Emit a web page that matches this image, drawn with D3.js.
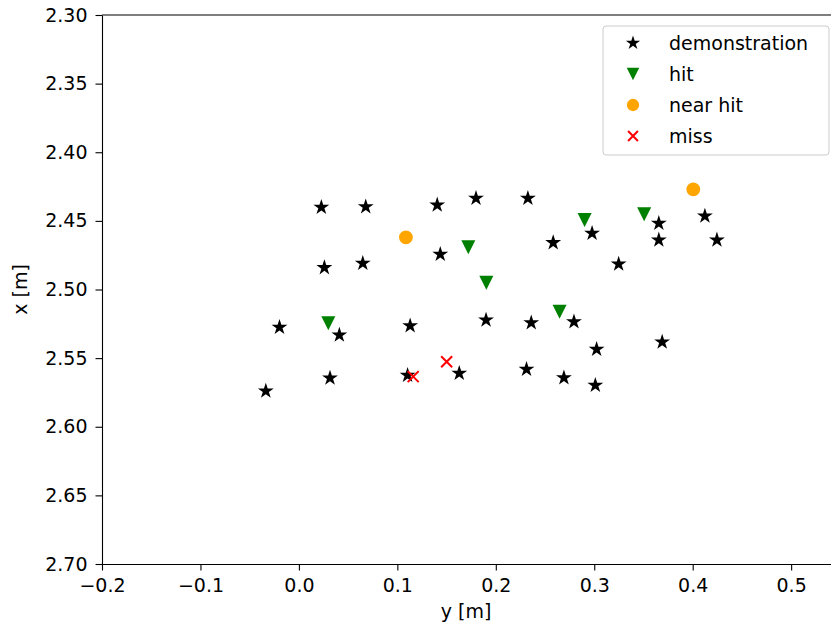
<!DOCTYPE html>
<html>
<head>
<meta charset="utf-8">
<script src="https://cdn.jsdelivr.net/npm/d3@7"></script>
<style>
  body { margin: 0; background: #fff; }
  svg text { font-family: "DejaVu Sans", sans-serif; fill: #000; }
</style>
</head>
<body>
<div id="chart"></div>
<script>
// demonstration points [y, x]
const demoY = [0.0228, 0.0679, 0.1405, 0.1799, 0.2326, 0.1436, 0.0259, 0.0649, 0.2978, 0.3656,
  0.3656, 0.4124, 0.4246, 0.2583, 0.3248, -0.0197, 0.0411, 0.1130, 0.1901, 0.2360,
  0.2794, 0.3024, 0.3690, -0.0336, 0.0316, 0.1104, 0.1629, 0.2312, 0.2692, 0.3011]
const demoX = [2.4401, 2.4397, 2.4384, 2.4336, 2.4336, 2.4744, 2.4841, 2.4809, 2.4591, 2.4518,
  2.4639, 2.4465, 2.4639, 2.4659, 2.4814, 2.5275, 2.5332, 2.5264, 2.5222, 2.5242,
  2.5235, 2.5436, 2.5383, 2.5740, 2.5645, 2.5625, 2.5611, 2.5581, 2.5643, 2.5698]

const hitY = [0.1721, 0.1904, 0.2902, 0.3507, 0.2648, 0.0299]
const hitX = [2.4693, 2.4950, 2.4494, 2.4452, 2.5162, 2.5246]

const nearY = [0.1087, 0.4006]
const nearX = [2.4620, 2.4270]

const missY = [0.1161, 0.1501]
const missX = [2.5635, 2.5526]

const xTicks = [-0.2, -0.1, 0.0, 0.1, 0.2, 0.3, 0.4, 0.5]
const yTicks = [2.30, 2.35, 2.40, 2.45, 2.50, 2.55, 2.60, 2.65, 2.70]

const W = 831, H = 628
const margin = {top: 15, right: -1, bottom: 64, left: 102}
const fs = "19px"

const svg = d3.select("#chart").append("svg")
  .attr("width", W).attr("height", H)

const x = d3.scaleLinear().domain([-0.2, 0.5415]).range([margin.left, W - margin.right])
const y = d3.scaleLinear().domain([2.30, 2.70]).range([margin.top, H - margin.bottom])

const fmtMinus = d => d.toFixed(1).replace("-", "\u2212")

// axes
const xAxis = svg.append("g")
  .attr("transform", `translate(0,${H - margin.bottom})`)
  .call(d3.axisBottom(x).tickValues(xTicks).tickFormat(fmtMinus).tickSize(6.5).tickPadding(10).tickSizeOuter(0))
const yAxis = svg.append("g")
  .attr("transform", `translate(${margin.left},0)`)
  .call(d3.axisLeft(y).tickValues(yTicks).tickFormat(d3.format(".2f")).tickSize(6.5).tickPadding(8).tickSizeOuter(0))

for (const g of [xAxis, yAxis]) {
  g.selectAll("text").style("font-size", fs).attr("fill", "#000")
  g.selectAll("line").attr("stroke", "#000").attr("stroke-width", 1.1)
  g.select(".domain").attr("stroke", "#000").attr("stroke-width", 1.1)
}
xAxis.selectAll("text").attr("dy", "0.6em")
// top spine
svg.append("line")
  .attr("x1", margin.left).attr("x2", W)
  .attr("y1", margin.top).attr("y2", margin.top)
  .attr("stroke", "#000").attr("stroke-width", 1.1)

svg.append("text")
  .attr("x", 466).attr("y", 618)
  .attr("text-anchor", "middle").style("font-size", fs)
  .text("y [m]")
svg.append("text")
  .attr("transform", `translate(27,${(margin.top + H - margin.bottom) / 2}) rotate(-90)`)
  .attr("text-anchor", "middle").style("font-size", fs)
  .text("x [m]")

// marker shapes
const triDown = {
  draw(ctx, size) {
    const h = Math.sqrt(size) / 2
    ctx.moveTo(0, h); ctx.lineTo(-h, -h); ctx.lineTo(h, -h); ctx.closePath()
  }
}
const cross = {
  draw(ctx, size) {
    const r = Math.sqrt(size) / 2
    ctx.moveTo(-r, -r); ctx.lineTo(r, r)
    ctx.moveTo(-r, r); ctx.lineTo(r, -r)
  }
}

const series = [
  {name: "demonstration", ys: demoY, xs: demoX, type: d3.symbolStar, size: 78, fill: "#000", stroke: "none"},
  {name: "hit", ys: hitY, xs: hitX, type: triDown, size: 196, fill: "#008000", stroke: "none"},
  {name: "near hit", ys: nearY, xs: nearX, type: d3.symbolCircle, size: 150, fill: "#ffa500", stroke: "none"},
  {name: "miss", ys: missY, xs: missX, type: cross, size: 121, fill: "none", stroke: "#ff0000"}
]

const plot = svg.append("g")
series.forEach(s => {
  const sym = d3.symbol(s.type, s.size)
  plot.selectAll(null)
    .data(s.ys.map((v, i) => [v, s.xs[i]]))
    .join("path")
      .attr("transform", d => `translate(${x(d[0])},${y(d[1])})`)
      .attr("d", sym)
      .attr("fill", s.fill)
      .attr("stroke", s.stroke)
      .attr("stroke-width", 2)
})

// legend
const lg = svg.append("g").attr("transform", "translate(603,26)")
lg.append("rect")
  .attr("width", 226).attr("height", 129).attr("rx", 3)
  .attr("fill", "#fff").attr("fill-opacity", 0.8)
  .attr("stroke", "#ccc").attr("stroke-width", 1)
series.forEach((s, i) => {
  const row = lg.append("g").attr("transform", `translate(30,${17 + i * 31})`)
  row.append("path")
    .attr("d", d3.symbol(s.type, s.size * 0.8))
    .attr("fill", s.fill).attr("stroke", s.stroke).attr("stroke-width", 2)
  row.append("text")
    .attr("x", 36).attr("y", 0).attr("dy", "0.35em")
    .style("font-size", fs)
    .text(s.name)
})
</script>
</body>
</html>
